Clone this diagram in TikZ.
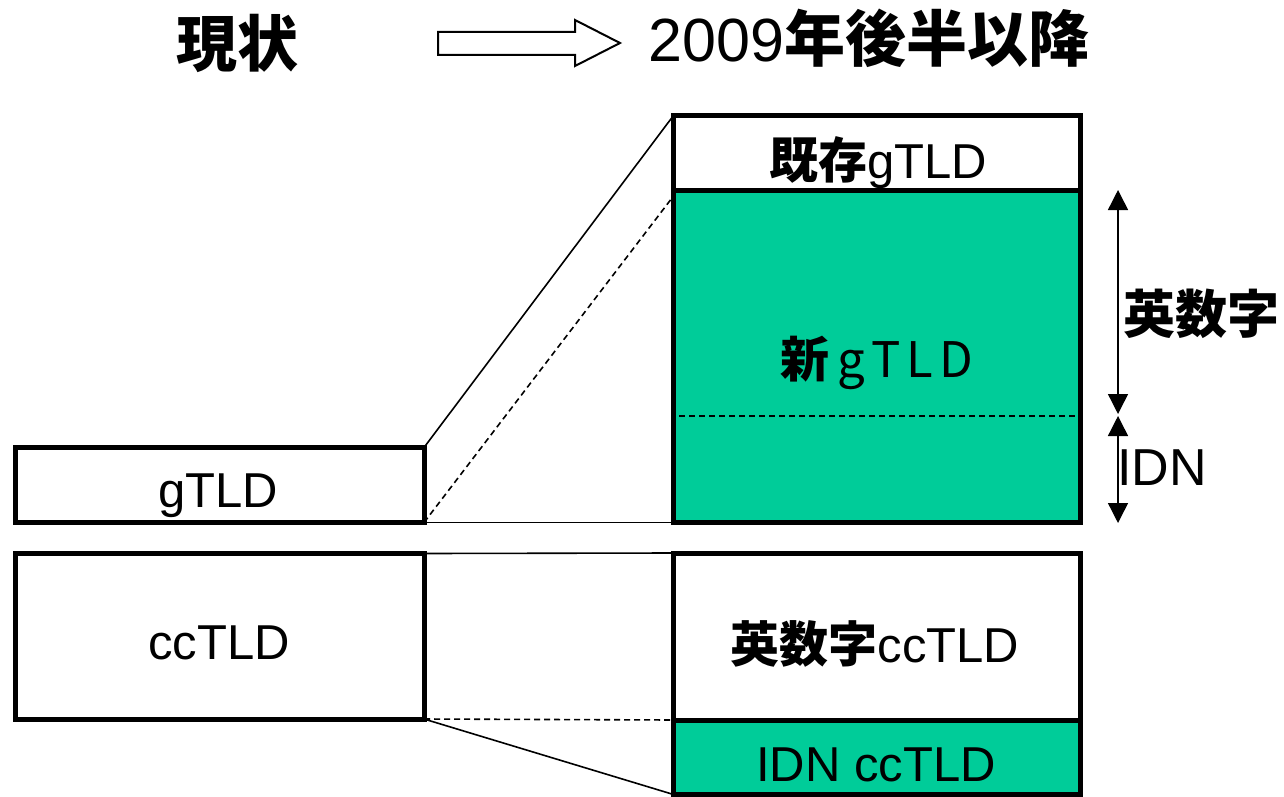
\documentclass[tikz,border=0pt]{standalone}
\usepackage{fontspec}
\setmainfont{Liberation Sans}
\newfontfamily\jp{Noto Sans CJK JP}
\usetikzlibrary{fit,arrows.meta}
\definecolor{newgreen}{RGB}{0,204,153}
\begin{document}
\begin{tikzpicture}[x=0.5pt,y=-0.5pt,
  box/.style={draw,line width=2.5pt,inner sep=0pt,outer sep=0pt},
  greenbox/.style={box,fill=newgreen},
  link/.style={line width=0.8pt},
  dlink/.style={line width=0.8pt,dash pattern=on 3pt off 2pt},
  dimarrow/.style={line width=0.7pt,{Triangle[length=10pt,width=10pt]}-{Triangle[length=10pt,width=10pt]}},
  lbl/.style={inner sep=0pt,outer sep=0pt,anchor=base,font=\fontsize{24.5}{29}\selectfont},
  sidelbl/.style={inner sep=0pt,outer sep=0pt,font=\fontsize{26}{31}\selectfont},
  title/.style={inner sep=0pt,outer sep=0pt,font=\fontsize{30.5}{36}\selectfont}]
\useasboundingbox (0,0) rectangle (1284,797);

% left column
\node[box,fit={(15.5,447.5)(424,522.5)}] (g) {};
\node[box,fit={(15.5,553.5)(424,719)}] (cc) {};

% right column
\node[box,fill=white,fit={(673.5,115.5)(1080,190)}] (old) {};
\node[greenbox,fit={(673.5,190)(1080,522.5)}] (new) {};
\node[box,fill=white,fit={(673.5,553)(1080,720)}] (ascii) {};
\node[greenbox,fit={(673.5,720)(1080,794.5)}] (idn) {};

% dashed divider inside new gTLD
\coordinate (dl) at (679,416);
\coordinate (dr) at (1077,416);
\draw[line width=0.8pt,dash pattern=on 3pt off 2pt] (dl) -- (dr);

% connectors
\draw[link] (g.north east) -- (old.north west);
\draw[dlink] (g.south east) -- ([yshift=-3pt]new.north west);
\draw[link] (g.south east) -- (new.south west);
\draw[link] (cc.north east) -- (ascii.north west);
\draw[dlink] (cc.south east) -- (ascii.south west);
\draw[link] (cc.south east) -- (idn.south west);

% labels
\node[lbl] (tg) at (218,507) {gTLD};
\node[lbl] (tcc) at (219,659) {ccTLD};
\node[lbl] (told) at (878,178) {{\jp\bfseries 既存}gTLD};
\node[lbl] (tnew) at (877,377) {{\jp\bfseries 新}\kern4pt{\jp g\kern3pt T\kern3pt L\kern3pt D}};
\node[lbl] (tascii) at (875,662) {{\jp\bfseries 英数字}ccTLD};
\node[lbl] (tidn) at (876,781) {IDN ccTLD};

% dimension arrows
\coordinate (a1) at (1118,190);
\coordinate (a2) at (1118,414);
\coordinate (a3) at (1118,416);
\coordinate (a4) at (1118,523);
\draw[dimarrow] (a1) -- (a2);
\draw[dimarrow] (a3) -- (a4);
\node[sidelbl] (sascii) at (1201,314) {\jp\bfseries 英数字};
\node[sidelbl,anchor=base] (sidn) at (1162,485) {IDN};

% titles
\node[title] (now) at (237,43) {\jp\bfseries 現状};
\node[title,anchor=base] (later) at (869,62) {2009{\jp\bfseries 年後半以降}};
\draw[line width=1pt,line join=miter] (438,32) -- (575,32) -- (575,20) -- (620,43) -- (575,66) -- (575,55) -- (438,55) -- cycle;
\end{tikzpicture}
\end{document}
